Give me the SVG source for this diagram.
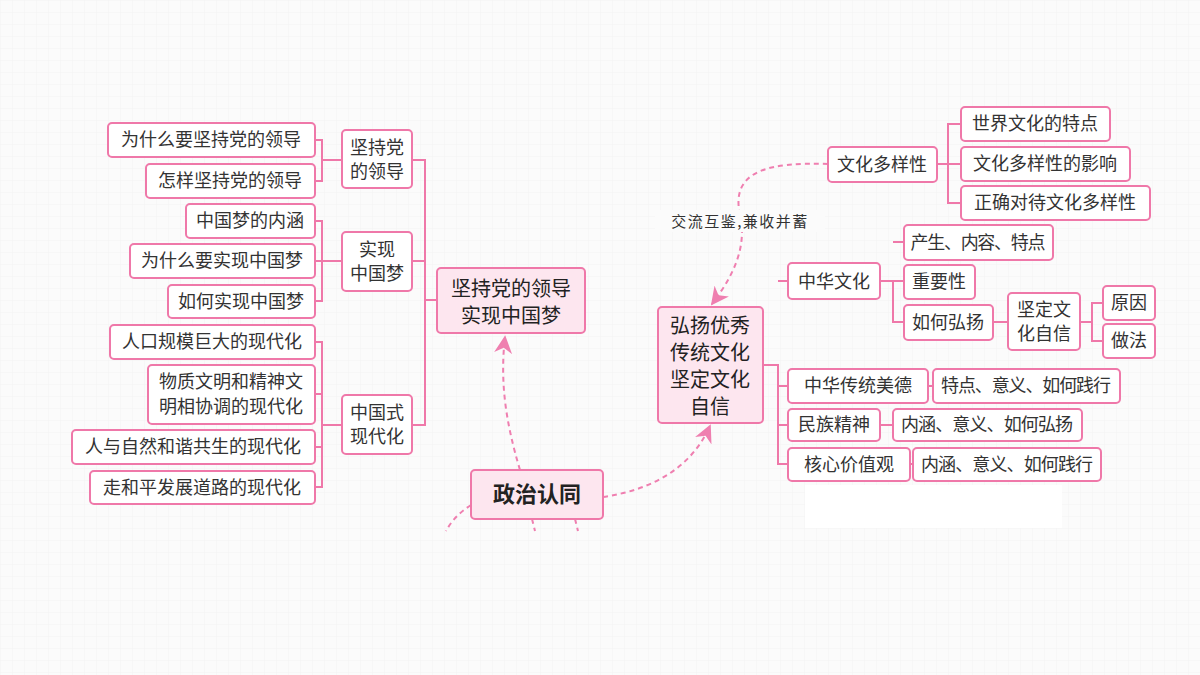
<svg xmlns="http://www.w3.org/2000/svg" width="1200" height="675" viewBox="0 0 1200 675">
<defs>
<pattern id="grid" width="12" height="12" patternUnits="userSpaceOnUse"><path d="M12 0H0V12" fill="none" stroke="#ececec" stroke-width="0.6"/></pattern>
<marker id="ah2" viewBox="0 0 10 10" refX="9" refY="5" markerWidth="18" markerHeight="18" orient="auto" markerUnits="userSpaceOnUse"><path d="M0 0L10 5L0 10L3 5Z" fill="#ef7fb0"/></marker>
<style>
rect.n{fill:#fff;stroke:#ef78a9;stroke-width:2}
rect.m{fill:#fde6ef;stroke:#ef78a9;stroke-width:2}
text{font-family:"Noto Sans CJK SC",sans-serif;font-size:18px;fill:#333;text-anchor:middle}
text.b{font-size:20px;fill:#222}
.l{fill:none;stroke:#ef78a9;stroke-width:2}
.d{fill:none;stroke:#ef7fb0;stroke-width:2;stroke-dasharray:5 4}
</style>
</defs>
<rect width="1200" height="675" fill="#fbfbfb"/>
<rect width="1200" height="675" fill="url(#grid)"/>
<rect x="805" y="485" width="257" height="43" fill="#fff"/>
<g id="connectors">
<path class="l" d="M315 140H322V181H315M322 160H342"/>
<path class="l" d="M315 221H322V301H315M315 261H342"/>
<path class="l" d="M315 342H322V487H315M315 394H322M315 447H322M322 425H342"/>
<path class="l" d="M412 160H425V425H412M412 261H425M425 300H437"/>
<path class="l" d="M763 365H778V464H788M778 281H788M778 386H788M778 425H788"/>
<path class="l" d="M880 281H893V322H904M893 242H904M880 281H904"/>
<path class="l" d="M993 322H1008M1080 322H1092V303H1103M1092 322V341H1103"/>
<path class="l" d="M928 386H933M880 425H893M910 464H913"/>
<path class="l" d="M937 164H948V124H961M948 164H961M948 164V203H961"/>
<path class="d" d="M828 164C770 162 730 170 740 215C748 250 730 280 712 304" marker-end="url(#ah2)"/>
<path class="d" d="M603 497C650 490 690 470 710 426" marker-end="url(#ah2)"/>
<path class="d" d="M520 470C505 420 500 380 505 337" marker-end="url(#ah2)"/>
<path class="d" d="M471 505C460 512 452 520 446 531M532 519L535 531M575 519L578 531"/>
</g>
<rect x="655" y="210" width="170" height="22" fill="#fbfbfb"/>
<text x="740" y="227" style="font-size:15px;letter-spacing:1.5px">交流互鉴,兼收并蓄</text>
<g id="n1"><rect class="n" x="108" y="123" width="207" height="34" rx="4"/><text x="211" y="146">为什么要坚持党的领导</text></g>
<g id="n2"><rect class="n" x="146" y="164" width="169" height="34" rx="4"/><text x="230" y="187">怎样坚持党的领导</text></g>
<g id="n3"><rect class="n" x="186" y="204" width="129" height="34" rx="4"/><text x="250" y="227">中国梦的内涵</text></g>
<g id="n4"><rect class="n" x="130" y="244" width="185" height="34" rx="4"/><text x="222" y="267">为什么要实现中国梦</text></g>
<g id="n5"><rect class="n" x="168" y="285" width="147" height="33" rx="4"/><text x="241" y="308">如何实现中国梦</text></g>
<g id="n6"><rect class="n" x="110" y="325" width="205" height="34" rx="4"/><text x="212" y="348">人口规模巨大的现代化</text></g>
<g id="n7"><rect class="n" x="148" y="365" width="167" height="59" rx="4"/><text x="231" y="388">物质文明和精神文</text><text x="231" y="413">明相协调的现代化</text></g>
<g id="n8"><rect class="n" x="72" y="430" width="243" height="34" rx="4"/><text x="193" y="453">人与自然和谐共生的现代化</text></g>
<g id="n9"><rect class="n" x="90" y="471" width="225" height="33" rx="4"/><text x="202" y="494">走和平发展道路的现代化</text></g>
<g id="m1"><rect class="n" x="342" y="130" width="70" height="58" rx="4"/><text x="377" y="154">坚持党</text><text x="377" y="178">的领导</text></g>
<g id="m2"><rect class="n" x="342" y="232" width="70" height="59" rx="4"/><text x="377" y="256">实现</text><text x="377" y="280">中国梦</text></g>
<g id="m3"><rect class="n" x="342" y="395" width="70" height="59" rx="4"/><text x="377" y="419">中国式</text><text x="377" y="443">现代化</text></g>
<g id="main1"><rect class="m" x="437" y="268" width="148" height="65" rx="4"/><text class="b" x="511" y="296">坚持党的领导</text><text class="b" x="511" y="323">实现中国梦</text></g>
<g id="root"><rect class="m" x="471" y="470" width="132" height="49" rx="4"/><text class="b" x="537" y="502" style="font-weight:bold;font-size:22px">政治认同</text></g>
<g id="main2"><rect class="m" x="658" y="307" width="105" height="116" rx="4"/><text class="b" x="710" y="333">弘扬优秀</text><text class="b" x="710" y="360">传统文化</text><text class="b" x="710" y="387">坚定文化</text><text class="b" x="710" y="414">自信</text></g>
<g id="r1"><rect class="n" x="788" y="263" width="92" height="36" rx="4"/><text x="834" y="288">中华文化</text></g>
<g id="r2"><rect class="n" x="788" y="369" width="140" height="34" rx="4"/><text x="858" y="392">中华传统美德</text></g>
<g id="r3"><rect class="n" x="788" y="409" width="92" height="32" rx="4"/><text x="834" y="431">民族精神</text></g>
<g id="r4"><rect class="n" x="788" y="448" width="122" height="33" rx="4"/><text x="849" y="471">核心价值观</text></g>
<g id="r5"><rect class="n" x="904" y="225" width="149" height="35" rx="4"/><text x="978" y="249" textLength="135">产生、内容、特点</text></g>
<g id="r6"><rect class="n" x="904" y="265" width="71" height="34" rx="4"/><text x="939" y="288">重要性</text></g>
<g id="r7"><rect class="n" x="904" y="305" width="89" height="35" rx="4"/><text x="948" y="329">如何弘扬</text></g>
<g id="r8"><rect class="n" x="1008" y="293" width="72" height="57" rx="4"/><text x="1044" y="316">坚定文</text><text x="1044" y="340">化自信</text></g>
<g id="r9"><rect class="n" x="1103" y="286" width="52" height="34" rx="4"/><text x="1129" y="309">原因</text></g>
<g id="r10"><rect class="n" x="1103" y="324" width="52" height="34" rx="4"/><text x="1129" y="347">做法</text></g>
<g id="r11"><rect class="n" x="933" y="369" width="187" height="34" rx="4"/><text x="1026" y="392" textLength="170">特点、意义、如何践行</text></g>
<g id="r12"><rect class="n" x="893" y="409" width="189" height="32" rx="4"/><text x="987" y="431" textLength="172">内涵、意义、如何弘扬</text></g>
<g id="r13"><rect class="n" x="913" y="448" width="188" height="33" rx="4"/><text x="1007" y="471" textLength="172">内涵、意义、如何践行</text></g>
<g id="r14"><rect class="n" x="828" y="147" width="109" height="35" rx="4"/><text x="882" y="171">文化多样性</text></g>
<g id="r15"><rect class="n" x="961" y="107" width="149" height="34" rx="4"/><text x="1035" y="130">世界文化的特点</text></g>
<g id="r16"><rect class="n" x="961" y="147" width="169" height="34" rx="4"/><text x="1045" y="170">文化多样性的影响</text></g>
<g id="r17"><rect class="n" x="961" y="186" width="189" height="34" rx="4"/><text x="1055" y="209">正确对待文化多样性</text></g>
</svg>
